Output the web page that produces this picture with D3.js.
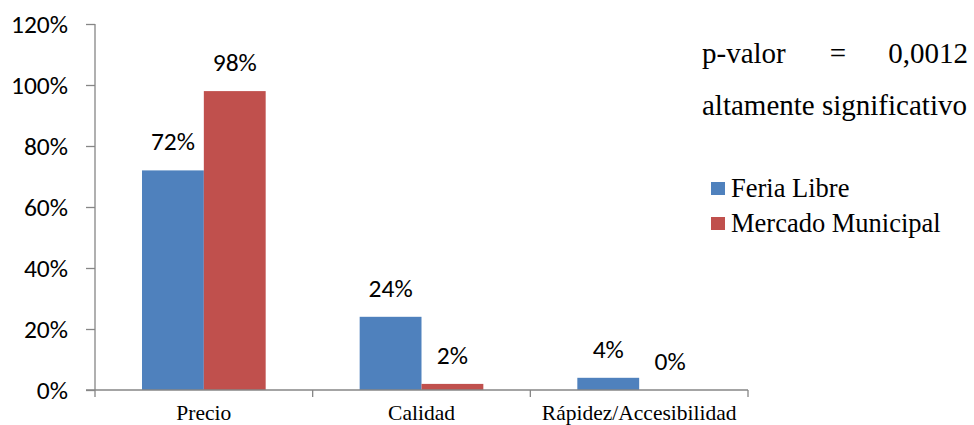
<!DOCTYPE html>
<html>
<head>
<meta charset="utf-8">
<script src="https://cdn.jsdelivr.net/npm/d3@7"></script>
<style>
  html, body { margin: 0; padding: 0; background: #fff; }
  svg { display: block; }
</style>
</head>
<body>
<svg id="chart" width="974" height="425"></svg>
<script>
// Motivo de compra por lugar
const categories = ["Precio", "Calidad", "Rápidez/Accesibilidad"];
const seriesNames = ["Feria Libre", "Mercado Municipal"];
const feriaLibre = [0.72, 0.24, 0.04];
const mercadoMunicipal = [0.98, 0.02, 0.00];
const yTicks = [0, 0.2, 0.4, 0.6, 0.8, 1.0, 1.2];
const colors = ["#4F81BD", "#C0504D"];

const svg = d3.select("#chart");
const numFont = "Carlito, Calibri, 'Open Sans', sans-serif";
const serif = "'Liberation Serif', 'Times New Roman', serif";
const axisColor = "#868686";

const x0 = d3.scaleBand().domain(categories).range([95, 748]).paddingInner(0).paddingOuter(0);
const x1 = d3.scaleBand().domain(seriesNames).range([0, x0.bandwidth()]).paddingInner(0).paddingOuter(0.76);
const y = d3.scaleLinear().domain([0, 1.2]).range([390, 24]);

const rows = categories.map((c, i) => ({ cat: c, vals: [feriaLibre[i], mercadoMunicipal[i]] }));

// y axis
const yAxis = d3.axisLeft(y).tickValues(yTicks).tickSize(9).tickPadding(18)
  .tickFormat(d3.format(".0%"));
const gy = svg.append("g").attr("transform", "translate(95,0)").call(yAxis);
gy.select(".domain").attr("stroke", axisColor).attr("stroke-width", 1.3).attr("d", "M0,24V390");
gy.selectAll(".tick line").attr("stroke", axisColor).attr("stroke-width", 1.3);
gy.selectAll(".tick text").attr("font-family", numFont).attr("font-size", 25.5).attr("fill", "#000");

// bars
const groups = svg.append("g").selectAll("g").data(rows).join("g")
  .attr("transform", d => `translate(${x0(d.cat)},0)`);
groups.selectAll("rect").data(d => d.vals.map((v, k) => ({ v, k }))).join("rect")
  .attr("x", d => x1(seriesNames[d.k]))
  .attr("width", x1.bandwidth())
  .attr("y", d => y(d.v))
  .attr("height", d => y(0) - y(d.v))
  .attr("fill", d => colors[d.k]);

// value labels
groups.selectAll("text").data(d => d.vals.map((v, k) => ({ v, k }))).join("text")
  .attr("x", d => x1(seriesNames[d.k]) + x1.bandwidth() / 2)
  .attr("y", d => y(d.v) - 20)
  .attr("text-anchor", "middle")
  .attr("font-family", numFont).attr("font-size", 25.5).attr("fill", "#000")
  .text(d => d3.format(".0%")(d.v));

// x axis
const xAxis = d3.axisBottom(x0).tickSize(0).tickPadding(0);
const gx = svg.append("g").attr("transform", "translate(0,390)").call(xAxis);
gx.select(".domain").remove();
gx.append("line").attr("x1", 86).attr("x2", 748).attr("y1", 0).attr("y2", 0)
  .attr("stroke", axisColor).attr("stroke-width", 1.3);
const edges = [x0.range()[0]].concat(categories.map(c => x0(c) + x0.bandwidth()));
gx.selectAll(".edge").data(edges).join("line").attr("class", "edge")
  .attr("x1", d => d).attr("x2", d => d).attr("y1", 0).attr("y2", 7)
  .attr("stroke", axisColor).attr("stroke-width", 1.3);
gx.selectAll(".tick text").attr("font-family", serif).attr("font-size", 21.5)
  .attr("fill", "#000").attr("dy", 0).attr("y", 30);

// statistic annotation
const ann = svg.append("g").attr("font-family", serif).attr("font-size", 29).attr("fill", "#000");
ann.append("text").attr("x", 702).attr("y", 63).text("p-valor");
ann.append("text").attr("x", 838).attr("y", 63).attr("text-anchor", "middle").text("=");
ann.append("text").attr("x", 968).attr("y", 63).attr("text-anchor", "end").text("0,0012");
ann.append("text").attr("x", 702).attr("y", 115).text("altamente significativo");

// legend
const leg = svg.append("g").selectAll("g").data(seriesNames).join("g")
  .attr("transform", (d, i) => `translate(711,${182 + i * 35})`);
leg.append("rect").attr("width", 14).attr("height", 13).attr("fill", (d, i) => colors[i]);
leg.append("text").attr("x", 20).attr("y", 15).attr("font-family", serif).attr("font-size", 26.5)
  .attr("fill", "#000").text(d => d);
</script>
</body>
</html>
